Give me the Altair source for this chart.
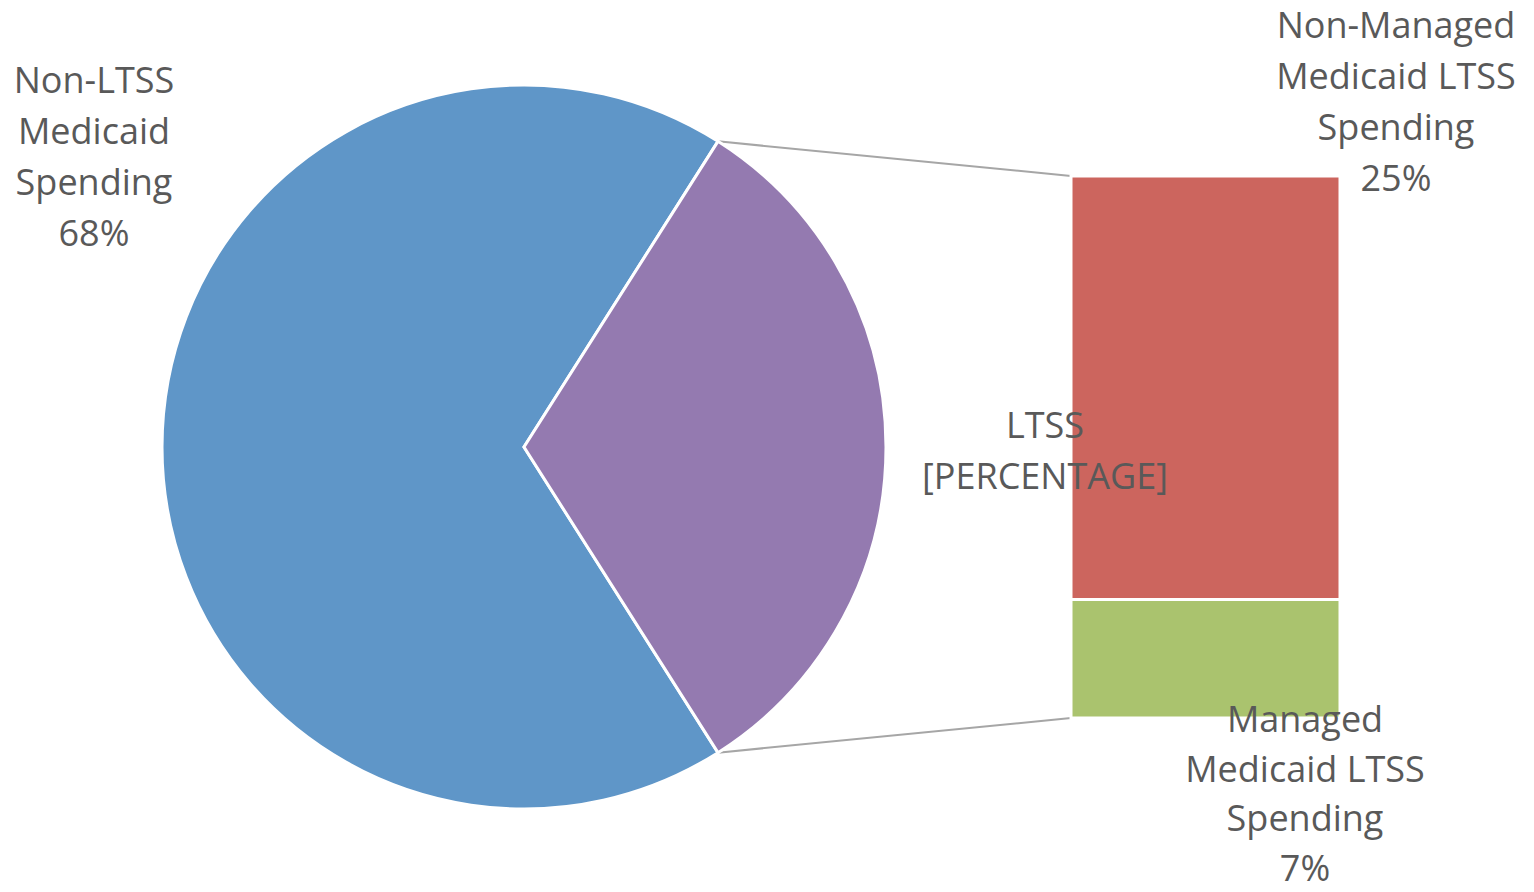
import math
import altair as alt
import pandas as pd

# ---- data ----
pie_categories = ["Non-LTSS Medicaid Spending", "LTSS"]
pie_values = [68, 32]
bar_categories = ["Non-Managed Medicaid LTSS Spending", "Managed Medicaid LTSS Spending"]
bar_values = [25, 7]
label_nonltss = "Non-LTSS\nMedicaid\nSpending\n68%"
label_ltss = "LTSS\n[PERCENTAGE]"
label_nonmanaged = "Non-Managed\nMedicaid LTSS\nSpending\n25%"
label_managed = "Managed\nMedicaid LTSS\nSpending\n7%"

# ---- layout / style ----
W, H = 1534, 892
CX, CY, R = 524, 447, 362
BAR_X0, BAR_X1 = 1071, 1340
BAR_TOP, BAR_BOT = 176, 718
TEXT_COLOR = "#595959"
FONT = "Open Sans"
FS = 36
LH = 51

ltss_frac = pie_values[1] / sum(pie_values)
start = math.pi / 2 + ltss_frac * math.pi  # Non-LTSS begins here, LTSS centred at 3 o'clock

pie_df = pd.DataFrame({"cat": pie_categories, "value": pie_values, "ord": [0, 1]})

# stack bar segments: Managed at the bottom, Non-Managed on top
bar_lo = [bar_values[1], 0]
bar_hi = [bar_values[1] + bar_values[0], bar_values[1]]
bar_df = pd.DataFrame({"cat": bar_categories, "lo": bar_lo, "hi": bar_hi})
one = pd.DataFrame({"d": [0]})

pie = alt.Chart(pie_df).mark_arc(radius=R, stroke="white", strokeWidth=3).encode(
    theta=alt.Theta("value:Q", stack=True, scale=alt.Scale(range=[start, start + 2 * math.pi])),
    order=alt.Order("ord:Q"),
    color=alt.Color("cat:N", scale=alt.Scale(domain=pie_categories, range=["#5F96C8", "#947AB0"]), legend=None),
    x=alt.value(CX),
    y=alt.value(CY),
)

total = sum(bar_values)
bar = alt.Chart(bar_df).mark_rect(stroke="white", strokeWidth=3).encode(
    x=alt.value(BAR_X0),
    x2=alt.value(BAR_X1),
    y=alt.Y("lo:Q", axis=None, scale=alt.Scale(domain=[0, total], range=[BAR_BOT, BAR_TOP])),
    y2="hi:Q",
    fill=alt.Fill("cat:N", scale=alt.Scale(domain=bar_categories, range=["#CC655E", "#AAC36E"]), legend=None),
)

a1 = start - 2 * math.pi + 2 * math.pi * (pie_values[0] / sum(pie_values))  # LTSS start angle
a2 = start  # LTSS end angle
p1 = (CX + R * math.sin(a1), CY - R * math.cos(a1))
p2 = (CX + R * math.sin(a2), CY - R * math.cos(a2))

line1 = alt.Chart(one).mark_rule(color="#A6A6A6", strokeWidth=2).encode(
    x=alt.value(p1[0]), y=alt.value(p1[1]), x2=alt.value(BAR_X0), y2=alt.value(BAR_TOP))
line2 = alt.Chart(one).mark_rule(color="#A6A6A6", strokeWidth=2).encode(
    x=alt.value(p2[0]), y=alt.value(p2[1]), x2=alt.value(BAR_X0), y2=alt.value(BAR_BOT))


def label(txt, x, y, lh=LH):
    return alt.Chart(pd.DataFrame({"t": [txt]})).mark_text(
        font=FONT, fontSize=FS, lineHeight=lh, color=TEXT_COLOR,
        align="center", baseline="middle", lineBreak="\n",
    ).encode(text="t:N", x=alt.value(x), y=alt.value(y))


labels = [
    label(label_nonltss, 94, 82),
    label(label_ltss, 1045, 427),
    label(label_nonmanaged, 1396, 27),
    label(label_managed, 1305, 721, 49.5),
]

chart = alt.layer(line1, line2, pie, bar, *labels).resolve_scale(
    color="independent", fill="independent"
).properties(
    width=W, height=H, padding=0, autosize=alt.AutoSizeParams(type="none"),
    background="white",
).configure_view(stroke=None)

chart.save("out.html", embed_options={"renderer": "svg", "actions": False})
